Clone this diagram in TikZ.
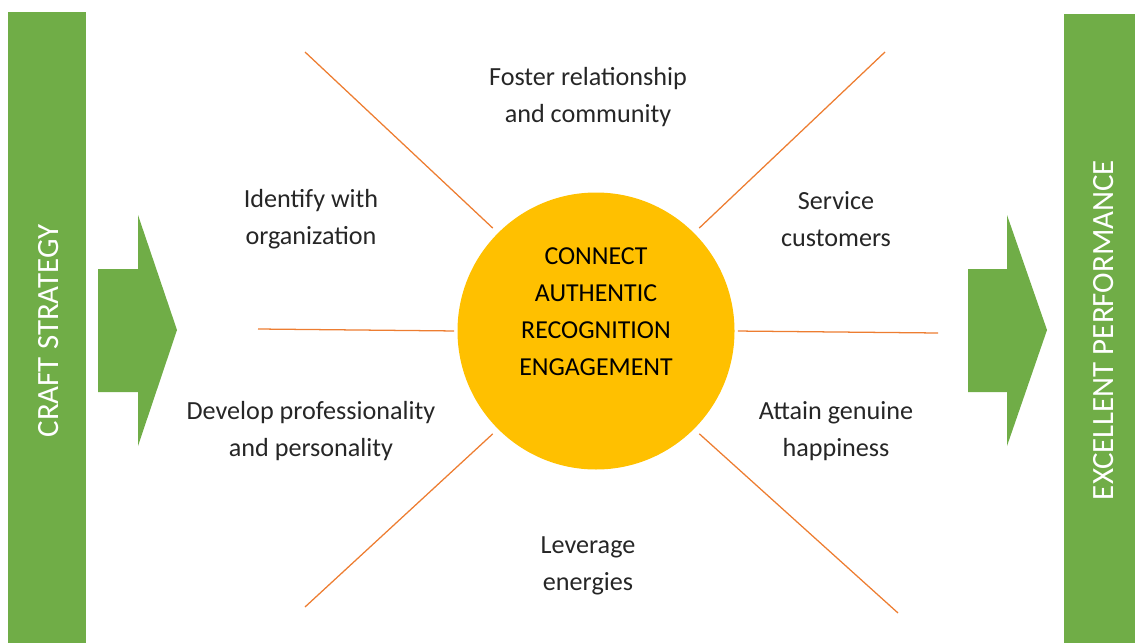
\documentclass[tikz,border=0pt]{standalone}
\usepackage{fontspec}
\setmainfont{Carlito}
\usetikzlibrary{positioning}
\definecolor{barGreen}{HTML}{70AD47}
\definecolor{hubYellow}{HTML}{FFC000}
\definecolor{rayOrange}{HTML}{ED7D31}
\definecolor{txtGray}{HTML}{262626}
\tikzset{
	ray/.style={draw=rayOrange, line width=0.9pt},
	label/.style={align=center, text=txtGray, font=\fontsize{18.6}{26.5}\selectfont},
	bartext/.style={rotate=90, text=white, font=\fontsize{22}{24}\selectfont}
}

\begin{document}
\begin{tikzpicture}[x=0.025cm, y=-0.025cm]
	\useasboundingbox (0,0) rectangle (1135,643);
	
	% side bars
	\fill[barGreen] (8,12) rectangle (86,643);
	\fill[barGreen] (1064,14) rectangle (1135,643);
	\node[bartext] (craft) at (49,331) {CRAFT STRATEGY};
	\node[bartext] (perf) at (1104,330) {EXCELLENT PERFORMANCE};
	
	% arrows
	\fill[barGreen] (98,269) -- (138,269) -- (138,215) -- (177,330) -- (138,446) -- (138,392) -- (98,392) -- cycle;
	\fill[barGreen] (968,269) -- (1007,269) -- (1007,215) -- (1047,330) -- (1007,446) -- (1007,392) -- (968,392) -- cycle;
	
	% hub
	\node[circle, fill=hubYellow, minimum size=277*0.025cm, inner sep=0pt] (hub) at (596,331) {};
	\node[align=center, font=\fontsize{18.4}{26.3}\selectfont] (hubtext) at (596,312) {CONNECT\\AUTHENTIC\\RECOGNITION\\ENGAGEMENT};
	
	% ray ends
	\coordinate (tlEnd) at (305,52);
	\coordinate (trEnd) at (885,52);
	\coordinate (lEnd) at (258,329);
	\coordinate (rEnd) at (938,333);
	\coordinate (blEnd) at (305,607);
	\coordinate (brEnd) at (898,613);
	
	\draw[ray, shorten >=7*0.025cm] (tlEnd) -- (hub.north west);
	\draw[ray, shorten >=7*0.025cm] (trEnd) -- (hub.north east);
	\draw[ray, shorten >=3*0.025cm] (lEnd) -- (hub.west);
	\draw[ray, shorten >=3*0.025cm] (rEnd) -- (hub.east);
	\draw[ray, shorten >=7*0.025cm] (blEnd) -- (hub.south west);
	\draw[ray, shorten >=7*0.025cm] (brEnd) -- (hub.south east);
	
	% labels
	\node[label] (foster) at (588,97) {Foster relationship\\and community};
	\node[label] (identify) at (311,219) {Identify with\\organization};
	\node[label] (service) at (836,219) {Service\\customers};
	\node[label] (develop) at (311,431) {Develop professionality\\and personality};
	\node[label] (attain) at (836,431) {Attain genuine\\happiness};
	\node[label] (leverage) at (588,566) {Leverage\\energies};
\end{tikzpicture}
\end{document}
